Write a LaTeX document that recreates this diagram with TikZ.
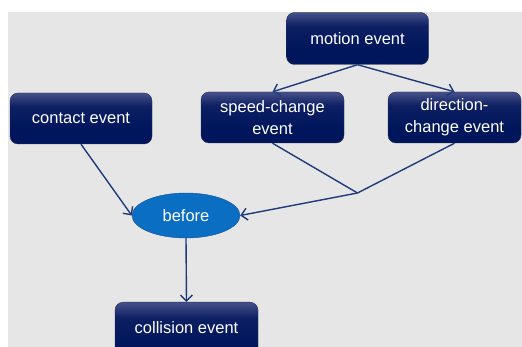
\documentclass[tikz,border=0pt]{standalone}
\usepackage{fontspec}
\setmainfont{Liberation Sans}
\usetikzlibrary{shapes.geometric,arrows.meta}
\definecolor{bg}{HTML}{E6E6E6}
\definecolor{boxtop}{HTML}{46518A}
\definecolor{boxmid}{HTML}{0E1F63}
\definecolor{boxbot}{HTML}{00165C}
\definecolor{linec}{HTML}{1F3B7A}
\definecolor{ellfill}{HTML}{0A6EC2}
\definecolor{elldraw}{HTML}{1A4F9A}
\pgfdeclareverticalshading{evshade}{100bp}{color(0bp)=(boxbot); color(40bp)=(boxbot); color(62bp)=(boxmid); color(75bp)=(boxtop); color(100bp)=(boxtop)}
\begin{document}
\begin{tikzpicture}[x=1pt,y=-1pt,
  evbox/.style={rectangle, rounded corners=8pt, draw=boxtop!60!black, line width=0.4pt,
    shading=evshade, text=white, align=center,
    font=\fontsize{16.5}{22}\selectfont, inner sep=0pt},
  conn/.style={draw=linec, line width=1.4pt},
  arr/.style={conn, -{Straight Barb[length=6pt,width=12pt,line width=1.4pt]}}]
\useasboundingbox (0,0) rectangle (522,347);
\fill[white] (0,0) rectangle (522,347);
\fill[bg] (8,12) rectangle (522,347);
\node[evbox, minimum width=142pt, minimum height=52pt] (motion) at (357.5,38.5) {motion event};
\node[evbox, minimum width=142pt, minimum height=51pt] (contact) at (81,118.5) {contact event};
\node[evbox, minimum width=143pt, minimum height=51pt] (speed) at (272.5,117.5) {speed-change\\event};
\node[evbox, minimum width=133pt, minimum height=51pt] (dir) at (454.5,117.5) {direction-\\change event};
\node[ellipse, draw=elldraw, fill=ellfill, text=white, minimum width=108pt, minimum height=45pt,
  inner sep=0pt, font=\fontsize{16.5}{20}\selectfont] (before) at (186,215.5) {before};
\node[evbox, minimum width=143pt, minimum height=60pt, anchor=north] (coll) at (186.5,302) {};
\node[text=white, font=\fontsize{16.5}{20}\selectfont] (colltxt) at (186.5,328) {collision event};
\coordinate (j) at (357.5,193);
\draw[arr] (motion.south) -- (speed.north);
\draw[arr] (motion.south) -- (dir.north);
\draw[arr] (contact.south) -- (before.west);
\draw[conn] (speed.south) -- (j);
\draw[conn] (dir.south) -- (j);
\draw[arr] (j) -- (before.east);
\draw[arr] (before.south) -- (coll.north);
\end{tikzpicture}
\end{document}
